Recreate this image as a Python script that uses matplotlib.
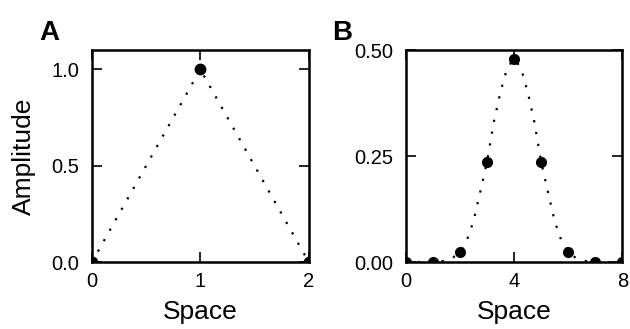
import matplotlib
matplotlib.use("Agg")
import matplotlib.pyplot as plt

plt.rcParams['font.family'] = ['Liberation Sans', 'DejaVu Sans']

# panel A: triangle
tri_x = [0, 1, 2]
tri_y = [0.0, 1.0, 0.0]

samp_x = [0, 1, 2, 3, 4, 5, 6, 7, 8]
samp_y = [0.0, 0.0, 0.024, 0.236, 0.479, 0.236, 0.024, 0.0, 0.0]

curve_x = [0, 0.5, 1.0, 1.25, 1.5, 1.75, 2.0, 2.25, 2.5, 2.75, 3.0, 3.25, 3.5, 3.75, 4.0,
           4.25, 4.5, 4.75, 5.0, 5.25, 5.5, 5.75, 6.0, 6.25, 6.5, 6.75, 7.0, 7.5, 8.0]
curve_y = [0.0, 0.0, 0.0, 0.001, 0.004, 0.011, 0.024, 0.050, 0.096, 0.165, 0.236, 0.330,
           0.402, 0.459, 0.479, 0.459, 0.402, 0.330, 0.236, 0.165, 0.096, 0.050, 0.024,
           0.011, 0.004, 0.001, 0.0, 0.0, 0.0]

fig = plt.figure(figsize=(6.3, 3.29), dpi=100)
axA = fig.add_axes([0.146, 0.2036, 0.344, 0.644])
axB = fig.add_axes([0.644, 0.2036, 0.344, 0.644])

dots = (0, (1, 4.4))

axA.plot(tri_x, tri_y, color='black', lw=1.6, linestyle=dots)
axA.plot(tri_x, tri_y, 'o', color='black', ms=7.5)
axA.set_xlim(0, 2)
axA.set_ylim(0, 1.1)
axA.set_xticks([0, 1, 2])
axA.set_yticks([0, 0.5, 1.0])
axA.set_yticklabels(['0.0', '0.5', '1.0'])
axA.set_ylabel('Amplitude', fontsize=19, labelpad=11)

axB.plot(curve_x, curve_y, color='black', lw=1.6, linestyle=dots)
axB.plot(samp_x, samp_y, 'o', color='black', ms=7)
axB.set_xlim(0, 8)
axB.set_ylim(0, 0.5)
axB.set_xticks([0, 4, 8])
axB.set_yticks([0, 0.25, 0.5])
axB.set_yticklabels(['0.00', '0.25', '0.50'])

for ax in (axA, axB):
    ax.set_xlabel('Space', fontsize=19, labelpad=7)
    ax.tick_params(direction='in', length=7, width=1.2, labelsize=14.5,
                   top=True, right=True)
    ax.tick_params(axis='x', pad=7)
    ax.tick_params(axis='y', pad=9)
    for s in ax.spines.values():
        s.set_linewidth(1.8)

fig.text(0.063, 0.90, 'A', fontsize=20, fontweight='bold', va='center')
fig.text(0.527, 0.90, 'B', fontsize=20, fontweight='bold', va='center')

fig.savefig('out.png', dpi=100)
